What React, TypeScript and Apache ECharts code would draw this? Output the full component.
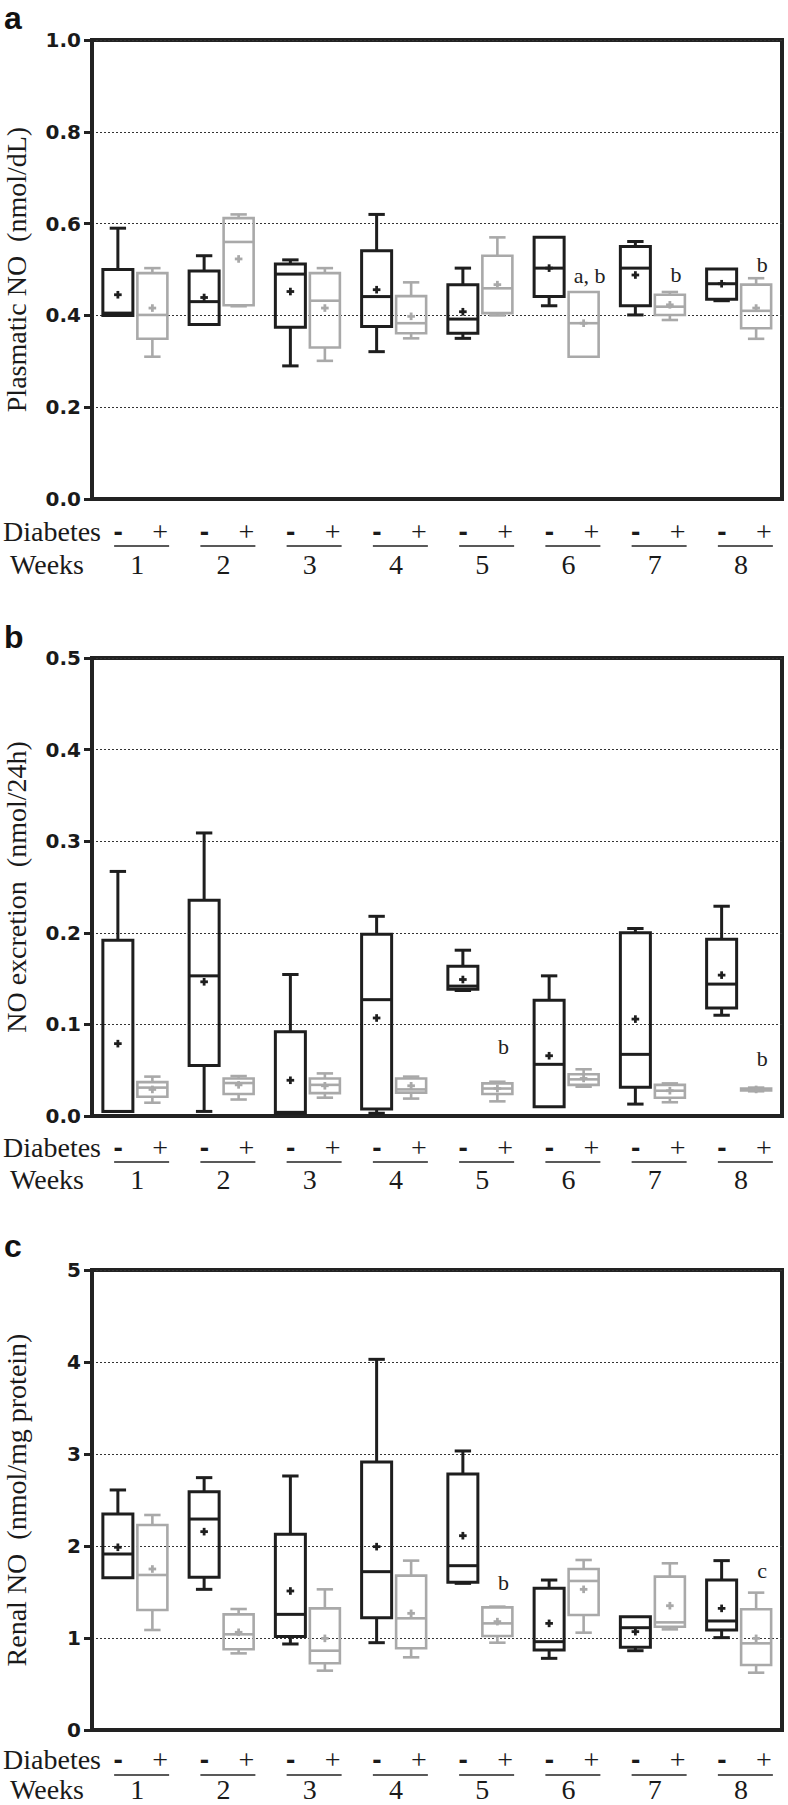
import React, { useEffect, useRef } from 'react';
import * as echarts from 'echarts';

const weeks = ['1', '2', '3', '4', '5', '6', '7', '8'];

// each row: [min, q1, median, q3, max, mean]
const plasmaControl = [
  [0.40, 0.40, 0.405, 0.50, 0.59, 0.445],
  [0.38, 0.38, 0.43, 0.497, 0.53, 0.439],
  [0.29, 0.374, 0.49, 0.512, 0.521, 0.452],
  [0.321, 0.376, 0.441, 0.541, 0.62, 0.456],
  [0.35, 0.361, 0.392, 0.467, 0.503, 0.408],
  [0.421, 0.441, 0.503, 0.57, 0.57, 0.503],
  [0.401, 0.421, 0.503, 0.55, 0.561, 0.488],
  [0.432, 0.435, 0.469, 0.501, 0.501, 0.469],
];
const plasmaDiabetes = [
  [0.31, 0.349, 0.401, 0.492, 0.503, 0.416],
  [0.42, 0.422, 0.56, 0.612, 0.62, 0.523],
  [0.301, 0.33, 0.432, 0.492, 0.503, 0.416],
  [0.35, 0.361, 0.383, 0.442, 0.472, 0.398],
  [0.40, 0.405, 0.459, 0.53, 0.57, 0.467],
  [0.31, 0.31, 0.383, 0.451, 0.451, 0.383],
  [0.39, 0.401, 0.419, 0.445, 0.451, 0.423],
  [0.349, 0.372, 0.41, 0.467, 0.481, 0.416],
];
const excretionControl = [
  [0.005, 0.005, 0.005, 0.192, 0.267, 0.079],
  [0.005, 0.055, 0.153, 0.2355, 0.309, 0.1465],
  [0.003, 0.003, 0.004, 0.092, 0.1545, 0.039],
  [0.003, 0.0076, 0.127, 0.1985, 0.218, 0.107],
  [0.137, 0.1385, 0.1418, 0.1636, 0.181, 0.149],
  [0.010, 0.010, 0.0564, 0.1265, 0.153, 0.0658],
  [0.013, 0.0313, 0.0673, 0.200, 0.2047, 0.1058],
  [0.110, 0.118, 0.144, 0.193, 0.229, 0.1538],
];
const excretionDiabetes = [
  [0.0145, 0.021, 0.031, 0.037, 0.043, 0.029],
  [0.018, 0.024, 0.036, 0.041, 0.0436, 0.034],
  [0.020, 0.025, 0.034, 0.041, 0.0465, 0.033],
  [0.019, 0.0255, 0.029, 0.041, 0.043, 0.033],
  [0.016, 0.024, 0.030, 0.0356, 0.0374, 0.030],
  [0.032, 0.034, 0.040, 0.0455, 0.051, 0.041],
  [0.015, 0.020, 0.0276, 0.034, 0.0356, 0.0276],
  [0.027, 0.028, 0.029, 0.030, 0.031, 0.029],
];
const renalControl = [
  [1.656, 1.656, 1.913, 2.348, 2.609, 1.986],
  [1.529, 1.659, 2.293, 2.591, 2.743, 2.156],
  [0.935, 1.015, 1.257, 2.127, 2.761, 1.511],
  [0.949, 1.221, 1.721, 2.913, 4.029, 1.993],
  [1.594, 1.605, 1.786, 2.783, 3.033, 2.112],
  [0.779, 0.870, 0.960, 1.540, 1.630, 1.159],
  [0.862, 0.899, 1.112, 1.232, 1.232, 1.069],
  [1.004, 1.087, 1.185, 1.630, 1.841, 1.322],
];
const renalDiabetes = [
  [1.087, 1.304, 1.685, 2.228, 2.337, 1.75],
  [0.833, 0.877, 1.04, 1.257, 1.315, 1.062],
  [0.645, 0.725, 0.862, 1.322, 1.529, 0.996],
  [0.790, 0.888, 1.214, 1.678, 1.841, 1.268],
  [0.949, 1.022, 1.159, 1.333, 1.341, 1.178],
  [1.058, 1.25, 1.62, 1.75, 1.848, 1.529],
  [1.094, 1.123, 1.170, 1.667, 1.812, 1.351],
  [0.623, 0.707, 0.942, 1.312, 1.493, 0.996],
];

// significance marks: [week index, value, text]
const plasmaNotes: [number, number, string][] = [[5, 0.488, 'a, b'], [6, 0.49, 'b'], [7, 0.51, 'b']];
const excretionNotes: [number, number, string][] = [[4, 0.076, 'b'], [7, 0.063, 'b']];
const renalNotes: [number, number, string][] = [[4, 1.6, 'b'], [7, 1.73, 'c']];

const BLACK = '#1e1e1e';
const GRAY = '#a9a9a9';
const SERIF = '"Liberation Serif", "Times New Roman", serif';
const GRID_LEFT = 92;
const GRID_W = 690;

const panels = [
  { letter: 'a', letterY: 18, top: 40, height: 459, max: 1, interval: 0.2, digits: 1,
    title: 'Plasmatic NO  (nmol/dL)', ctrl: plasmaControl, diab: plasmaDiabetes, notes: plasmaNotes,
    diabY: 531, lineY: 546, weeksY: 564 },
  { letter: 'b', letterY: 637, top: 658, height: 458, max: 0.5, interval: 0.1, digits: 1,
    title: 'NO excretion  (nmol/24h)', ctrl: excretionControl, diab: excretionDiabetes, notes: excretionNotes,
    diabY: 1147, lineY: 1162, weeksY: 1179 },
  { letter: 'c', letterY: 1246, top: 1270, height: 460, max: 5, interval: 1, digits: 0,
    title: 'Renal NO  (nmol/mg protein)', ctrl: renalControl, diab: renalDiabetes, notes: renalNotes,
    diabY: 1759, lineY: 1775, weeksY: 1789 },
];

function makeBox(side: number, color: string, lw: number) {
  return (params: any, api: any) => {
    const idx = api.value(0);
    const band = api.size([1, 0])[0];
    const cx = api.coord([idx, 0])[0] + side * band * 0.2;
    const y = (v: number) => api.coord([idx, v])[1];
    const mn = api.value(1), q1 = api.value(2), md = api.value(3), q3 = api.value(4), mx = api.value(5), mean = api.value(6);
    const hw = band * 0.174;
    const cw = band * 0.095;
    const ms = 3.8;
    const st = { stroke: color, lineWidth: lw, fill: 'none' };
    const ch: any[] = [];
    if (mx > q3 + 1e-9) {
      ch.push({ type: 'line', shape: { x1: cx, y1: y(q3), x2: cx, y2: y(mx) }, style: st });
      ch.push({ type: 'line', shape: { x1: cx - cw, y1: y(mx), x2: cx + cw, y2: y(mx) }, style: st });
    }
    if (mn < q1 - 1e-9) {
      ch.push({ type: 'line', shape: { x1: cx, y1: y(q1), x2: cx, y2: y(mn) }, style: st });
      ch.push({ type: 'line', shape: { x1: cx - cw, y1: y(mn), x2: cx + cw, y2: y(mn) }, style: st });
    }
    ch.push({ type: 'rect', shape: { x: cx - hw, y: y(q3), width: 2 * hw, height: y(q1) - y(q3) }, style: st });
    ch.push({ type: 'line', shape: { x1: cx - hw, y1: y(md), x2: cx + hw, y2: y(md) }, style: st });
    const my = y(mean);
    const ps = { stroke: color, lineWidth: 2.8 };
    ch.push({ type: 'line', shape: { x1: cx - ms, y1: my, x2: cx + ms, y2: my }, style: ps });
    ch.push({ type: 'line', shape: { x1: cx, y1: my - ms, x2: cx, y2: my + ms }, style: ps });
    return { type: 'group', children: ch };
  };
}

function makeNotes(notes: [number, number, string][]) {
  return (params: any, api: any) => {
    const idx = api.value(0);
    const band = api.size([1, 0])[0];
    const p = api.coord([idx, api.value(1)]);
    return {
      type: 'text',
      x: p[0] + band * 0.27,
      y: p[1],
      style: { text: notes[params.dataIndex][2], font: `22px ${SERIF}`, fill: '#222', align: 'center', verticalAlign: 'middle' },
    };
  };
}

function buildOption() {
  const grid: any[] = [];
  const xAxis: any[] = [];
  const yAxis: any[] = [];
  const series: any[] = [];
  const graphics: any[] = [];
  const textFont = `28px ${SERIF}`;

  panels.forEach((p, k) => {
    grid.push({ left: GRID_LEFT, top: p.top, width: GRID_W, height: p.height, show: true,
      borderColor: '#222', borderWidth: 4, backgroundColor: 'transparent' });
    xAxis.push({ type: 'category', gridIndex: k, data: weeks, boundaryGap: true,
      axisLine: { lineStyle: { color: '#222', width: 4 } }, axisTick: { show: false },
      axisLabel: { show: false }, splitLine: { show: false } });
    yAxis.push({ type: 'value', gridIndex: k, min: 0, max: p.max, interval: p.interval,
      axisLine: { show: true, lineStyle: { color: '#222', width: 4 } },
      axisTick: { show: true, length: 8, lineStyle: { color: '#222', width: 3 } },
      axisLabel: { margin: 11, color: '#1a1a1a', fontWeight: 'bold', fontSize: 20,
        fontFamily: '"DejaVu Sans", sans-serif', formatter: (v: number) => v.toFixed(p.digits) },
      splitLine: { show: true, lineStyle: { color: '#333', width: 1, type: [2, 2] } } });
    series.push({ type: 'custom', xAxisIndex: k, yAxisIndex: k, renderItem: makeBox(-1, BLACK, 3),
      data: p.ctrl.map((d, i) => [i, ...d]), encode: { x: 0, y: [1, 2, 3, 4, 5, 6] }, z: 4 });
    series.push({ type: 'custom', xAxisIndex: k, yAxisIndex: k, renderItem: makeBox(1, GRAY, 2.6),
      data: p.diab.map((d, i) => [i, ...d]), encode: { x: 0, y: [1, 2, 3, 4, 5, 6] }, z: 3 });
    series.push({ type: 'custom', xAxisIndex: k, yAxisIndex: k, renderItem: makeNotes(p.notes),
      data: p.notes.map((n) => [n[0], n[1]]), encode: { x: 0, y: 1 }, z: 5 });

    graphics.push({ type: 'text', x: 4, y: p.letterY,
      style: { text: p.letter, font: 'bold 32px "Liberation Sans", Arial, sans-serif', fill: '#111', align: 'left', verticalAlign: 'middle' } });
    graphics.push({ type: 'text', x: 16, y: p.top + p.height / 2, rotation: Math.PI / 2,
      style: { text: p.title, font: textFont, fill: '#1a1a1a', align: 'center', verticalAlign: 'middle' } });
    graphics.push({ type: 'text', x: 101, y: p.diabY,
      style: { text: 'Diabetes', font: textFont, fill: '#1a1a1a', align: 'right', verticalAlign: 'middle' } });
    graphics.push({ type: 'text', x: 84, y: p.weeksY,
      style: { text: 'Weeks', font: textFont, fill: '#1a1a1a', align: 'right', verticalAlign: 'middle' } });
    const band = GRID_W / weeks.length;
    weeks.forEach((w, i) => {
      const cx = GRID_LEFT + (i + 0.5) * band;
      graphics.push({ type: 'text', x: cx - 17, y: p.diabY,
        style: { text: '-', font: 'bold 28px "Liberation Sans", Arial, sans-serif', fill: '#1a1a1a', align: 'center', verticalAlign: 'middle' } });
      graphics.push({ type: 'text', x: cx + 25, y: p.diabY,
        style: { text: '+', font: textFont, fill: '#1a1a1a', align: 'center', verticalAlign: 'middle' } });
      graphics.push({ type: 'line', shape: { x1: cx - 21, y1: p.lineY, x2: cx + 34, y2: p.lineY },
        style: { stroke: '#222', lineWidth: 1.6 } });
      graphics.push({ type: 'text', x: cx + 2, y: p.weeksY,
        style: { text: w, font: textFont, fill: '#1a1a1a', align: 'center', verticalAlign: 'middle' } });
    });
  });

  return {
    animation: false,
    backgroundColor: '#ffffff',
    grid, xAxis, yAxis, series,
    graphic: { elements: graphics },
  };
}

export default function App() {
  const ref = useRef<HTMLDivElement>(null);
  useEffect(() => {
    const chart = echarts.init(ref.current as HTMLDivElement, null, { renderer: 'svg' });
    chart.setOption(buildOption() as any);
    return () => chart.dispose();
  }, []);
  return (
    <div ref={ref} style={{ position: 'absolute', left: 0, top: 0, width: 788, height: 1805, background: '#fff' }} />
  );
}
